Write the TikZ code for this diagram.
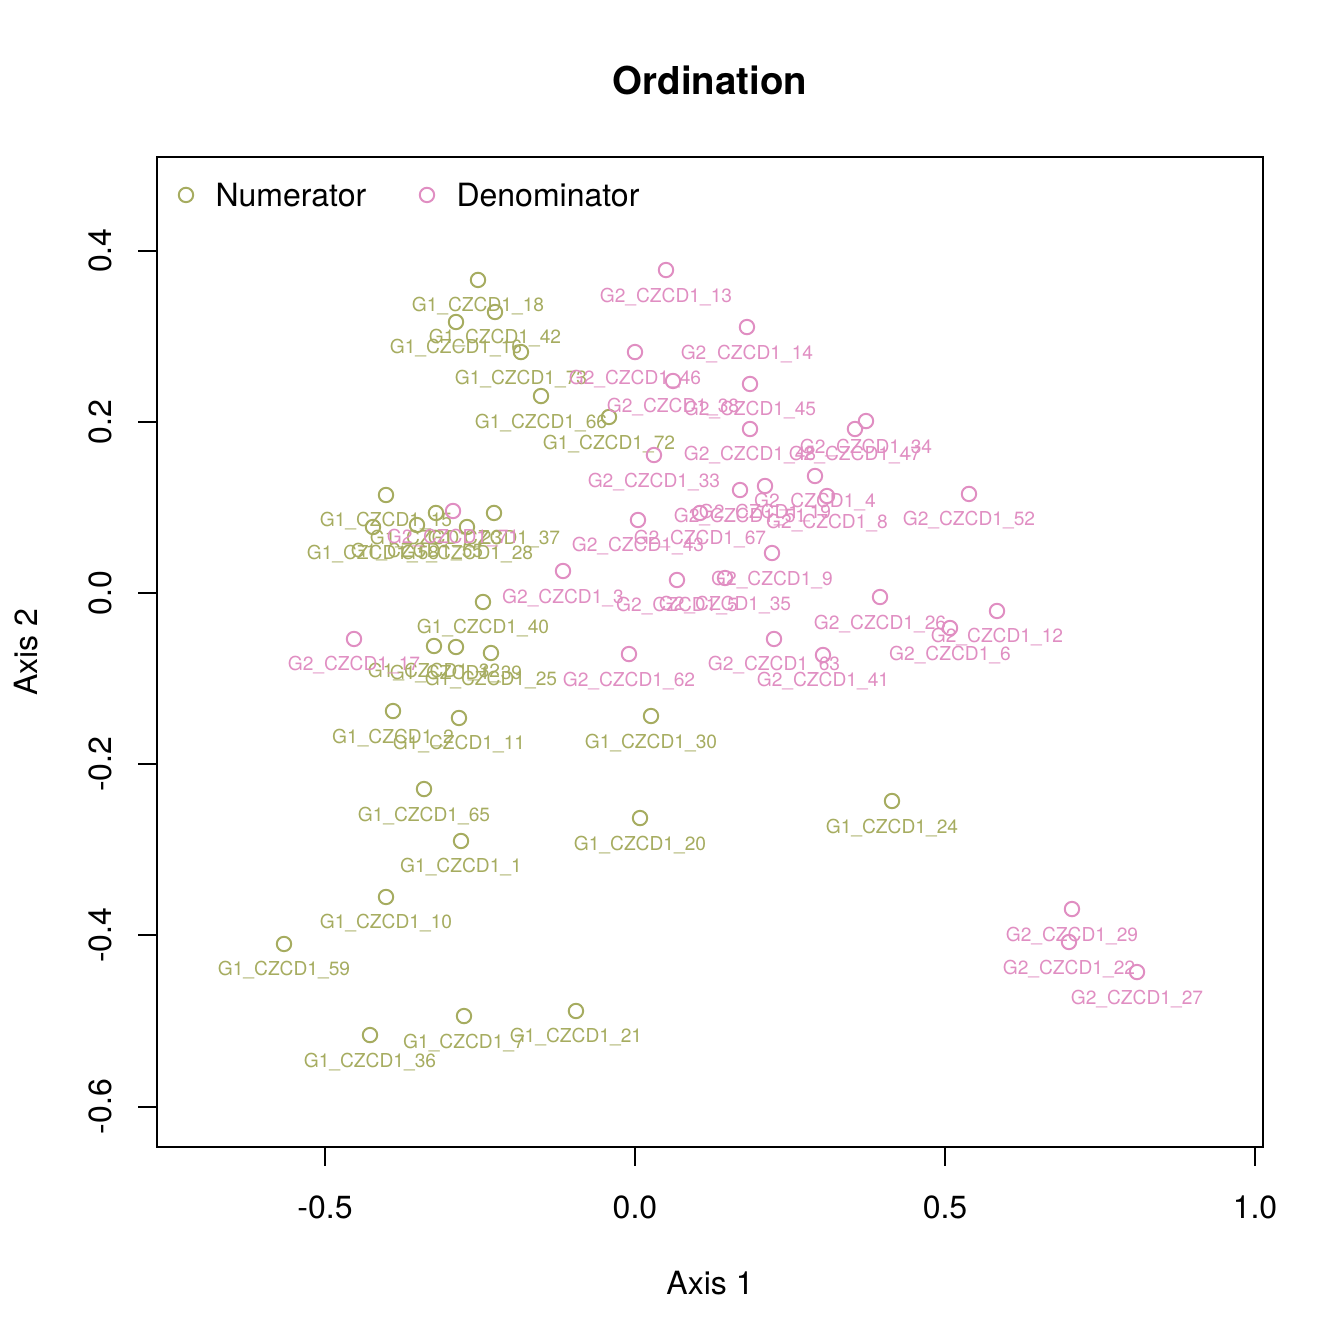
\documentclass[tikz,border=0pt]{standalone}
\usepackage{fontspec}
\setmainfont{TeX Gyre Heros}
\definecolor{numcol}{RGB}{166,172,96}
\definecolor{dencol}{RGB}{224,142,194}
\newcommand{\numpt}[3]{\node[draw=numcol,circle,line width=0.75pt,inner sep=0pt,minimum size=5.4pt] (n#1) at (#2,#3) {};
  \node[text=numcol,anchor=base,inner sep=0pt,font=\fontsize{7.2}{8.6}\selectfont] (n#1l) at ([yshift=-12pt]n#1.center) {G1\_CZCD1\_#1};}
\newcommand{\denpt}[3]{\node[draw=dencol,circle,line width=0.75pt,inner sep=0pt,minimum size=5.4pt] (d#1) at (#2,#3) {};
  \node[text=dencol,anchor=base,inner sep=0pt,font=\fontsize{7.2}{8.6}\selectfont] (d#1l) at ([yshift=-12pt]d#1.center) {G2\_CZCD1\_#1};}
\begin{document}
\begin{tikzpicture}[x=232.5pt,y=321pt]
    \useasboundingbox (-1.02419,-0.87734) rectangle (1.14355,0.69276);
    \draw[line width=0.75pt] (-0.77097,-0.64720) rectangle (1.01290,0.50935);
    % axes
    \foreach \x/\t [count=\i] in {-0.5/-0.5,0/0.0,0.5/0.5,1/1.0}{
      \draw[line width=0.75pt] (\x,-0.64720) -- (\x,-0.6694);
      \node[font=\fontsize{12}{14}\selectfont] (xt\i) at (\x,-0.7173) {\t};}
    \foreach \y/\t [count=\i] in {-0.6/-0.6,-0.4/-0.4,-0.2/-0.2,0/0.0,0.2/0.2,0.4/0.4}{
      \draw[line width=0.75pt] (-0.77097,\y) -- (-0.8016,\y);
      \node[font=\fontsize{12}{14}\selectfont,rotate=90] (yt\i) at (-0.8629,\y) {\t};}
    \node[font=\fontsize{12}{14}\selectfont] (xlab) at (0.1210,-0.8061) {Axis 1};
    \node[font=\fontsize{12}{14}\selectfont,rotate=90] (ylab) at (-0.9823,-0.0690) {Axis 2};
    \node[font=\bfseries\fontsize{14.4}{17}\selectfont] (title) at (0.1210,0.5993) {Ordination};
    % legend
    \node[draw=numcol,circle,line width=0.75pt,inner sep=0pt,minimum size=5.4pt] (legnum) at (-0.7242,0.4650) {};
    \node[anchor=west,inner sep=0pt,font=\fontsize{12}{14}\selectfont] (legnuml) at (-0.6774,0.4650) {Numerator};
    \node[draw=dencol,circle,line width=0.75pt,inner sep=0pt,minimum size=5.4pt] (legden) at (-0.3355,0.4650) {};
    \node[anchor=west,inner sep=0pt,font=\fontsize{12}{14}\selectfont] (legdenl) at (-0.2887,0.4650) {Denominator};
    % numerator
    \numpt{18}{-0.2532}{0.3657} \numpt{42}{-0.2258}{0.3283}
    \numpt{16}{-0.2887}{0.3166} \numpt{73}{-0.1839}{0.2815}
    \numpt{66}{-0.1516}{0.2301} \numpt{72}{-0.0419}{0.2056}
    \numpt{15}{-0.4016}{0.1145} \numpt{23}{-0.3210}{0.0935}
    \numpt{37}{-0.2274}{0.0935} \numpt{58}{-0.4226}{0.0771}
    \numpt{55}{-0.3516}{0.0794} \numpt{28}{-0.2710}{0.0771}
    \numpt{40}{-0.2452}{-0.0105} \numpt{32}{-0.3242}{-0.0619}
    \numpt{39}{-0.2887}{-0.0631} \numpt{25}{-0.2323}{-0.0701}
    \numpt{2}{-0.3903}{-0.1379} \numpt{11}{-0.2839}{-0.1460}
    \numpt{30}{0.0258}{-0.1437} \numpt{65}{-0.3403}{-0.2290}
    \numpt{1}{-0.2806}{-0.2897} \numpt{20}{0.0081}{-0.2629}
    \numpt{24}{0.4145}{-0.2430} \numpt{10}{-0.4016}{-0.3551}
    \numpt{59}{-0.5661}{-0.4100} \numpt{36}{-0.4274}{-0.5164}
    \numpt{7}{-0.2758}{-0.4942} \numpt{21}{-0.0952}{-0.4883}
    % denominator
    \denpt{13}{0.0500}{0.3773} \denpt{14}{0.1806}{0.3107}
    \denpt{46}{0.0000}{0.2815} \denpt{38}{0.0613}{0.2477}
    \denpt{45}{0.1855}{0.2442} \denpt{48}{0.1855}{0.1916}
    \denpt{34}{0.3726}{0.2009} \denpt{47}{0.3548}{0.1916}
    \denpt{33}{0.0306}{0.1612} \denpt{4}{0.2903}{0.1367}
    \denpt{51}{0.1694}{0.1203} \denpt{19}{0.2097}{0.1250}
    \denpt{8}{0.3097}{0.1133} \denpt{52}{0.5387}{0.1157}
    \denpt{67}{0.1048}{0.0935} \denpt{43}{0.0048}{0.0853}
    \denpt{71}{-0.2935}{0.0958} \denpt{9}{0.2210}{0.0467}
    \denpt{3}{-0.1161}{0.0257} \denpt{5}{0.0677}{0.0152}
    \denpt{35}{0.1452}{0.0175} \denpt{26}{0.3952}{-0.0047}
    \denpt{12}{0.5839}{-0.0210} \denpt{6}{0.5081}{-0.0409}
    \denpt{17}{-0.4532}{-0.0537} \denpt{62}{-0.0097}{-0.0713}
    \denpt{63}{0.2242}{-0.0537} \denpt{41}{0.3032}{-0.0724}
    \denpt{29}{0.7048}{-0.3692} \denpt{22}{0.7000}{-0.4077}
    \denpt{27}{0.8097}{-0.4428}
\end{tikzpicture}
\end{document}
